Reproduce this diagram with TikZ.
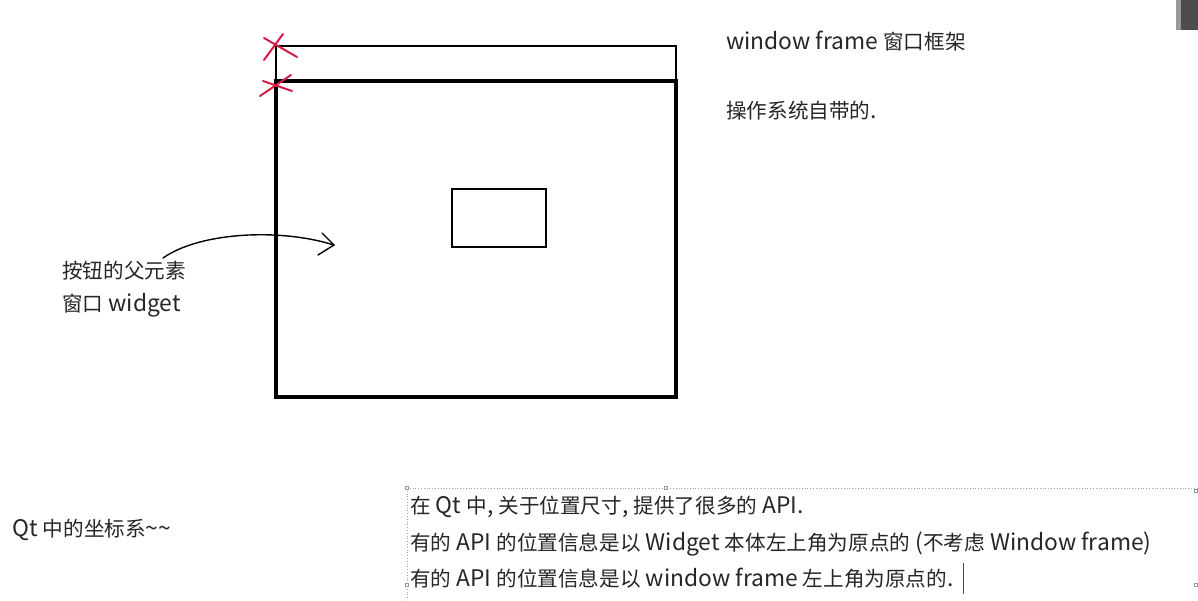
\documentclass[tikz,border=0pt]{standalone}
\usepackage{fontspec}
\setmainfont{Noto Sans CJK SC}
\newcommand\lt[1]{{\fontsize{22.8}{24}\selectfont #1}}
\definecolor{crossred}{RGB}{210,30,70}
\definecolor{boxdot}{RGB}{150,165,190}
\begin{document}
\begin{tikzpicture}[x=1pt,y=-1pt,
  txt/.style={anchor=west,inner sep=0pt,font=\fontsize{20.6}{24}\selectfont,text=black!85},
  redx/.style={draw=crossred,line width=2pt,line cap=round},
  rectbox/.style={draw,inner sep=0pt,outer sep=0pt,anchor=north west},
  handle/.style={draw=black!40,fill=white,line width=0.4pt,minimum size=3pt,inner sep=0pt},
  dotline/.style={draw=boxdot,dotted,line width=0.8pt}]
\useasboundingbox (0,0) rectangle (1198,600);
\fill[white] (0,0) rectangle (1198,600);
% webcam fragment
\fill[black!70] (1176,0) rectangle (1198,30);
\fill[black!40] (1176,0) rectangle (1181,30);
% window frame and widget
\node[rectbox,line width=2.8pt,minimum width=400pt,minimum height=35pt] (frame) at (276,46) {};
\node[rectbox,line width=4.8pt,minimum width=400pt,minimum height=316pt] (widget) at (276,81) {};
\node[rectbox,line width=2.4pt,minimum width=94pt,minimum height=58pt] (button) at (452,189) {};
% red crosses
\draw[redx] (264,60) -- (283,34);
\draw[redx] (264,38) -- (297,57);
\draw[redx] (260,96) -- (291,75);
\draw[redx] (263,81) -- (292,91);
% texts
\node[txt] (wf) at (726,41) {\lt{window frame }窗口框架};
\node[txt] (os) at (726,111) {操作系统自带的\lt{.}};
\node[txt] (p1) at (62,271) {按钮的父元素};
\node[txt] (p2) at (62,305) {窗口\lt{ widget}};
\node[txt] (qt) at (12,530) {\lt{Qt }中的坐标系\lt{\textasciitilde\textasciitilde}};
% arrow
\coordinate (as) at (163,258);
\coordinate (ae) at (334,245);
\draw[line width=1.4pt,line cap=round] (as) .. controls (200,232) and (280,228) .. (ae);
\draw[line width=1.4pt,line cap=round,line join=round] (322,233) -- (ae) -- (318,255);
% text box
\draw[dotline] (407,488) -- (1198,488);
\draw[dotline] (407,488) -- (407,600);
\node[handle] (h1) at (407,488) {};
\node[handle] (h2) at (666,488) {};
\node[handle] (h3) at (1196,491) {};
\node[handle] (h4) at (407,585) {};
\node[handle] (h5) at (1196,585) {};
\node[txt] (l1) at (410,507) {在\lt{ Qt }中\lt{, }关于位置尺寸\lt{, }提供了很多的\lt{ API.}};
\node[txt] (l2) at (410,544) {有的\lt{ API }的位置信息是以\lt{ Widget }本体左上角为原点的\lt{ (}不考虑\lt{ Window frame)}};
\node[txt] (l3) at (410,578) {有的\lt{ API }的位置信息是以\lt{ window frame }左上角为原点的\lt{.}};
\draw[line width=0.8pt,black!70] (963,563) -- (963,594);
\end{tikzpicture}
\end{document}
